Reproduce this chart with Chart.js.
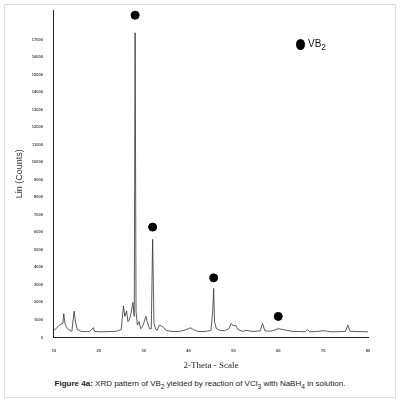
<!DOCTYPE html>
<html>
<head>
<meta charset="utf-8">
<script src="https://cdn.jsdelivr.net/npm/chart.js@4"></script>
<style>
  body { margin: 0; width: 400px; height: 400px; background: #fff; font-family: "Liberation Sans Narrow", "Liberation Sans", Arial, sans-serif; }
  #frame { position: absolute; left: 4px; top: 4px; width: 390px; height: 392px; border: 1px solid #ddd; }
  #wrap { position: absolute; left: 0; top: 0; width: 400px; height: 375px; }
  #legend { position: absolute; left: 296px; top: 38px; font-size: 10px; color: #111; }
  #legend span.dot { display: inline-block; width: 9px; height: 11px; border-radius: 50%; background: #000; vertical-align: middle; margin-right: 3px; }
  #caption { position: absolute; left: 0; width: 400px; top: 379px; text-align: center; font-size: 8px; color: #222; }
</style>
</head>
<body>
<div id="frame"></div>
<div id="wrap"><canvas id="xrd" width="400" height="375"></canvas></div>
<div id="legend"><span class="dot"></span>VB<sub>2</sub></div>
<div id="caption"><b>Figure 4a:</b> XRD pattern of VB<sub>2</sub> yielded by reaction of VCl<sub>3</sub> with NaBH<sub>4</sub> in solution.</div>
<script>
// 2-theta positions (degrees)
const angleValues = [
  10,10.5,11,11.5,12,12.2,12.5,13,13.5,14,
  14.5,14.8,15.2,16,17,18,18.8,19,20,22,
  24,25,25.5,25.8,26.2,26.5,26.8,27.2,27.6,27.9,
  28.1,28.3,28.6,29,29.3,29.6,30,30.5,30.8,31.3,
  31.7,32,32.3,32.7,33,33.5,34,34.5,35,36,
  37,38,39,40,40.5,41,41.5,42,43,44,
  45,45.4,45.6,45.8,46.2,47,48,49,49.5,50,
  50.5,51,52,53,54,55,56,56.5,57,58,
  59,60,61,62,63,65,66,66.5,67,68,
  69,70,71,72,74,75,75.5,76,78,80
];
// intensity (counts)
const countValues = [
  400,500,650,750,800,1350,750,500,400,350,
  1500,900,450,350,330,350,550,350,320,330,
  350,450,1800,1200,1500,900,1000,1400,2000,1200,
  17400,1500,700,900,500,550,800,1200,900,500,
  500,5600,800,450,400,700,650,550,400,350,
  330,350,400,500,550,450,400,350,330,350,
  400,1500,2800,900,500,400,380,500,800,650,
  700,450,350,400,350,350,380,800,380,350,
  400,500,450,400,350,330,320,450,320,330,
  350,380,350,320,330,350,700,350,330,320
];
// VB2 peak markers
const markerAngles = [28.1, 32.0, 45.6, 60.0];
const markerCounts = [18400, 6300, 3400, 1200];
const xTicks = [10,20,30,40,50,60,70,80];
const yTicks = [0,1000,2000,3000,4000,5000,6000,7000,8000,9000,10000,11000,12000,13000,14000,15000,16000,17000];

const ctx = document.getElementById('xrd').getContext('2d');
new Chart(ctx, {
  type: 'line',
  data: {
    datasets: [{
      data: angleValues.map((a, i) => ({ x: a, y: countValues[i] })),
      borderColor: '#333',
      borderWidth: 0.8,
      pointRadius: 0,
      tension: 0
    }, {
      type: 'scatter',
      data: markerAngles.map((a, i) => ({ x: a, y: markerCounts[i] })),
      pointStyle: 'circle',
      pointRadius: 4,
      backgroundColor: '#000',
      borderColor: '#000',
      clip: false
    }]
  },
  options: {
    animation: false,
    responsive: false,
    layout: { padding: { left: 10, right: 32, top: 10, bottom: 0 } },
    plugins: { legend: { display: false }, tooltip: { enabled: false } },
    scales: {
      x: {
        type: 'linear', min: 10, max: 80,
        afterBuildTicks: s => { s.ticks = xTicks.map(v => ({ value: v })); },
        grid: { display: false },
        border: { color: '#222' },
        ticks: { font: { size: 4, weight: 'bold' }, color: '#444' },
        title: { display: true, text: '2-Theta - Scale', font: { size: 9, family: 'Liberation Sans Narrow' }, color: '#222' }
      },
      y: {
        min: 0, max: 18700,
        afterBuildTicks: s => { s.ticks = yTicks.map(v => ({ value: v })); },
        ticks: { font: { size: 4, weight: 'bold' }, color: '#444', callback: v => String(v) },
        grid: { display: false },
        border: { color: '#222' },
        title: { display: true, text: 'Lin (Counts)', font: { size: 9, family: 'Liberation Sans' }, color: '#333' }
      }
    }
  }
});
</script>
</body>
</html>
